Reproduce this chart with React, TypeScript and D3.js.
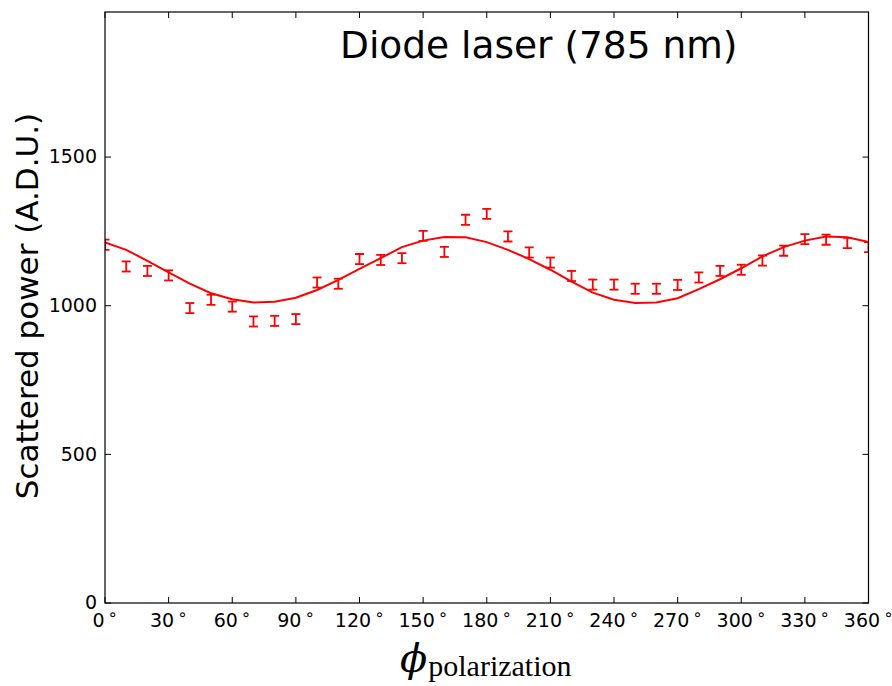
import React from "react";
import * as d3 from "d3";

const angles = [0, 10, 20, 30, 40, 50, 60, 70, 80, 90, 100, 110, 120, 130, 140, 150, 160, 170, 180, 190, 200, 210, 220, 230, 240, 250, 260, 270, 280, 290, 300, 310, 320, 330, 340, 350, 360];
const measured = [1205, 1132, 1117, 1102, 992, 1020, 997, 947, 949, 955, 1078, 1074, 1157, 1154, 1160, 1235, 1181, 1289, 1309, 1233, 1179, 1145, 1100, 1071, 1071, 1057, 1057, 1070, 1095, 1117, 1121, 1152, 1185, 1224, 1222, 1211, 1197];
const errors = [17, 17, 17, 17, 17, 17, 17, 17, 17, 17, 17, 17, 17, 17, 17, 17, 17, 17, 17, 17, 17, 17, 17, 17, 17, 17, 17, 17, 17, 17, 17, 17, 17, 17, 17, 17, 17];
const fitted = [1213, 1188, 1151, 1112, 1074, 1042, 1022, 1011, 1013, 1027, 1053, 1087, 1124, 1160, 1197, 1219, 1231, 1230, 1214, 1188, 1157, 1121, 1081, 1044, 1020, 1009, 1011, 1025, 1056, 1089, 1126, 1166, 1197, 1219, 1233, 1230, 1214];
const xTicks = [0, 30, 60, 90, 120, 150, 180, 210, 240, 270, 300, 330, 360];
const yTicks = [0, 500, 1000, 1500];
const title = "Diode laser (785 nm)";
const yLabel = "Scattered power (A.D.U.)";

export default function App() {
  const left = 105, right = 868.5, top = 12, bottom = 603;
  const x = d3.scaleLinear().domain([0, 360]).range([left, right]);
  const y = d3.scaleLinear().domain([0, 1988]).range([bottom, top]);
  const line = d3.line<number>().x((_, i) => x(angles[i])).y((d) => y(d));
  const red = "#ff0000";
  const tickLen = 6;
  const font = "DejaVu Sans, sans-serif";
  return (
    <svg width={892} height={686} style={{ position: "absolute", left: 0, top: 0, background: "#fff" }}>
      <defs>
        <clipPath id="plot">
          <rect x={left} y={top} width={right - left} height={bottom - top} />
        </clipPath>
      </defs>
      <rect x={0} y={0} width={892} height={686} fill="#fff" />
      <g clipPath="url(#plot)">
        <path d={line(fitted) || ""} fill="none" stroke={red} strokeWidth={2} />
        {measured.map((v, i) => {
          const cx = x(angles[i]);
          const y1 = y(v - errors[i]);
          const y2 = y(v + errors[i]);
          return (
            <g key={i} stroke={red} strokeWidth={1.8}>
              <line x1={cx} x2={cx} y1={y1} y2={y2} />
              <line x1={cx - 4.5} x2={cx + 4.5} y1={y1} y2={y1} />
              <line x1={cx - 4.5} x2={cx + 4.5} y1={y2} y2={y2} />
            </g>
          );
        })}
      </g>
      <rect x={left} y={top} width={right - left} height={bottom - top} fill="none" stroke="#000" strokeWidth={1.2} />
      {xTicks.map((t) => (
        <g key={"x" + t} stroke="#000" strokeWidth={1}>
          <line x1={x(t)} x2={x(t)} y1={bottom} y2={bottom - tickLen} />
          <line x1={x(t)} x2={x(t)} y1={top} y2={top + tickLen} />
        </g>
      ))}
      {yTicks.map((t) => (
        <g key={"y" + t} stroke="#000" strokeWidth={1}>
          <line x1={left} x2={left + tickLen} y1={y(t)} y2={y(t)} />
          <line x1={right} x2={right - tickLen} y1={y(t)} y2={y(t)} />
        </g>
      ))}
      {xTicks.map((t) => (
        <text key={"xl" + t} x={x(t)} y={627} textAnchor="middle" fontFamily={font} fontSize={19} fill="#000">
          {t}
          <tspan dx={3} fontSize={16} dy={-7}>∘</tspan>
        </text>
      ))}
      {yTicks.map((t) => (
        <text key={"yl" + t} x={97} y={y(t)} dy="0.33em" textAnchor="end" fontFamily={font} fontSize={19} fill="#000">
          {t}
        </text>
      ))}
      <text x={340} y={58} fontFamily={font} fontSize={37.5} fill="#000">{title}</text>
      <text transform={`translate(38, 306) rotate(-90)`} textAnchor="middle" fontFamily={font} fontSize={31} fill="#000">
        {yLabel}
      </text>
      <text x={400} y={672} fontFamily="DejaVu Serif, serif" fill="#000">
        <tspan fontSize={40} fontStyle="italic">ϕ</tspan>
        <tspan fontSize={30} dy={4} dx={1} fontFamily="Liberation Serif, serif">polarization</tspan>
      </text>
    </svg>
  );
}
